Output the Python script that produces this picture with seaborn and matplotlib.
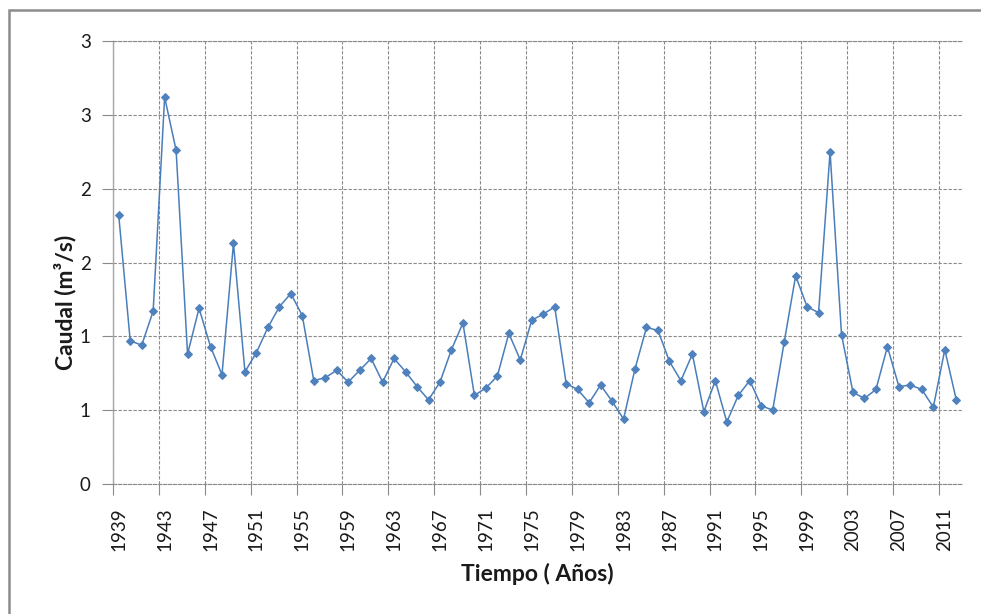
import matplotlib
matplotlib.use("Agg")
import matplotlib.pyplot as plt
from matplotlib.patches import Rectangle
import seaborn as sns
import pandas as pd

# annual discharge series
years = list(range(1939, 2013))
caudal = [
    1.82, 0.97, 0.94, 1.17, 2.62, 2.26, 0.88, 1.19, 0.93, 0.74,
    1.63, 0.76, 0.89, 1.06, 1.20, 1.29, 1.14, 0.70, 0.72, 0.77,
    0.69, 0.77, 0.85, 0.69, 0.85, 0.76, 0.66, 0.57, 0.69, 0.91,
    1.09, 0.60, 0.65, 0.73, 1.02, 0.84, 1.11, 1.15, 1.20, 0.68,
    0.64, 0.55, 0.67, 0.56, 0.44, 0.78, 1.06, 1.04, 0.83, 0.70,
    0.88, 0.49, 0.70, 0.42, 0.60, 0.70, 0.53, 0.50, 0.96, 1.41,
    1.20, 1.16, 2.25, 1.01, 0.62, 0.58, 0.64, 0.93, 0.66, 0.67,
    0.64, 0.52, 0.91, 0.57,
]
ytick_vals = [0, 0.5, 1, 1.5, 2, 2.5, 3]
ytick_labels = ["0", "1", "1", "2", "2", "3", "3"]

df = pd.DataFrame({"idx": range(len(years)), "year": years, "caudal": caudal})

sns.set_style("white")
plt.rcParams["font.family"] = ["Lato", "DejaVu Sans"]

grid_col = "#8a8a8a"
dash = (0, (3, 1.5))
blue = "#4A7EBB"
txt = "#1a1a1a"

fig = plt.figure(figsize=(9.81, 6.14), dpi=100)
ax = fig.add_axes([113 / 981, 1 - 484 / 614, 849 / 981, 443 / 614])

sns.lineplot(data=df, x="idx", y="caudal", ax=ax, color=blue, linewidth=1.1,
             marker="D", markersize=4.3, markeredgecolor="#4F81BD",
             markerfacecolor="#4F81BD", zorder=3)

n = len(years)
ax.set_xlim(-0.5, n - 0.5)
ax.set_ylim(0, 3)

# labels on category centres, gridlines between categories
ax.set_xticks(list(range(0, n, 4)))
ax.set_xticklabels([str(y) for y in years[::4]], rotation=90)
ax.set_xticks([i - 0.5 for i in range(0, n - 1, 4)], minor=True)
ax.tick_params(axis="x", which="major", length=0, pad=17, labelsize=13.5,
               labelcolor=txt)
ax.tick_params(axis="x", which="minor", length=8, width=0.8, color=grid_col,
               direction="out", bottom=True)
ax.grid(axis="x", which="minor", color=grid_col, linestyle=dash, linewidth=0.8)

ax.set_yticks(ytick_vals)
ax.set_yticklabels(ytick_labels)
ax.tick_params(axis="y", length=8, width=0.8, color=grid_col, pad=8,
               labelsize=13.5, labelcolor=txt, left=True)
ax.grid(axis="y", which="major", color=grid_col, linestyle=dash, linewidth=0.8)

for side in ["top", "bottom"]:
    ax.spines[side].set_color(grid_col)
    ax.spines[side].set_linestyle(dash)
    ax.spines[side].set_linewidth(0.8)
ax.spines["right"].set_visible(False)
ax.spines["left"].set_color("#a6a6a6")
ax.spines["left"].set_linewidth(1.0)

ax.set_xlabel("Tiempo ( Años)", fontsize=16.5, fontweight="bold", color=txt)
ax.set_ylabel("Caudal (m³/s)", fontsize=16.5, fontweight="bold", color=txt)
ax.xaxis.set_label_coords(0.5, -0.178)
ax.yaxis.set_label_coords(-0.043, 0.41)

# chart area border (cropped on the right and bottom)
fig.patches.append(Rectangle((9 / 981, -0.2), 1.3, 1.2 - 10 / 614,
                             transform=fig.transFigure, fill=False,
                             edgecolor="#8c8c8c", linewidth=1.8))

fig.savefig("out.png", dpi=100)
